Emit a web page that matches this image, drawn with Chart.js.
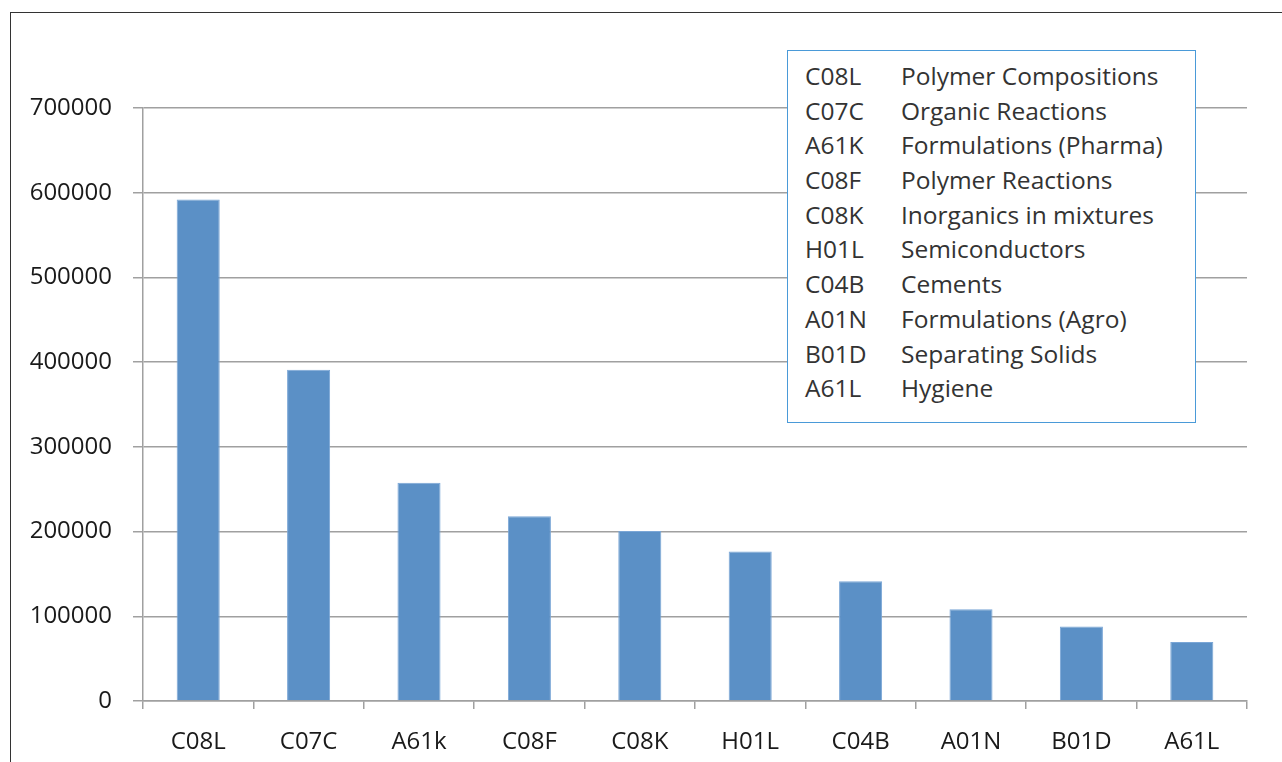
<!DOCTYPE html>
<html>
<head>
<meta charset="utf-8">
<script src="https://cdn.jsdelivr.net/npm/chart.js@4.4.1/dist/chart.umd.min.js"></script>
<style>
  html, body { margin: 0; padding: 0; background: #fff; }
  #wrap { position: relative; width: 1282px; height: 762px; overflow: hidden; }
  #frame { position: absolute; left: 10px; top: 12px; width: 1400px; height: 900px;
           border-left: 1.5px solid #333; border-top: 1.5px solid #333; }
  canvas { position: absolute; left: 0; top: 0; }
  #legend { position: absolute; left: 787px; top: 50px; width: 409px; height: 373px;
            border: 1.5px solid #4a9ad8; background: #fff; box-sizing: border-box;
            font-family: "Open Sans", sans-serif; font-size: 24.5px; color: #333; padding-top: 8px; }
  #legend .row { height: 34.7px; line-height: 34.7px; white-space: nowrap; }
  #legend .code { display: inline-block; width: 96px; padding-left: 17px; }
</style>
</head>
<body>
<div id="wrap">
  <div id="frame"></div>
  <canvas id="c" width="1282" height="762"></canvas>
  <div id="legend"></div>
</div>
<script>
const categories = ["C08L", "C07C", "A61k", "C08F", "C08K", "H01L", "C04B", "A01N", "B01D", "A61L"];
const values = [592000, 391000, 257500, 218000, 200800, 176500, 141500, 108300, 88000, 69500];
const yTicks = [0, 100000, 200000, 300000, 400000, 500000, 600000, 700000];
const legendCodes = ["C08L", "C07C", "A61K", "C08F", "C08K", "H01L", "C04B", "A01N", "B01D", "A61L"];
const legendNames = ["Polymer Compositions", "Organic Reactions", "Formulations (Pharma)", "Polymer Reactions",
  "Inorganics in mixtures", "Semiconductors", "Cements", "Formulations (Agro)", "Separating Solids", "Hygiene"];

const lg = document.getElementById('legend');
legendCodes.forEach((c, i) => {
  const r = document.createElement('div');
  r.className = 'row';
  const s = document.createElement('span'); s.className = 'code'; s.textContent = c;
  const n = document.createElement('span'); n.textContent = legendNames[i];
  r.appendChild(s); r.appendChild(n); lg.appendChild(r);
});

const font = { family: "'Open Sans', sans-serif", size: 24 };
new Chart(document.getElementById('c'), {
  type: 'bar',
  data: {
    labels: categories,
    datasets: [{ data: values, backgroundColor: '#5b90c6', borderColor: '#7aa6d6', borderWidth: 1,
                 categoryPercentage: 1.0, barPercentage: 0.39 }]
  },
  options: {
    responsive: false,
    animation: false,
    devicePixelRatio: 1,
    layout: { padding: { top: 108, right: 35, left: 0, bottom: 0 } },
    plugins: { legend: { display: false }, tooltip: { enabled: false } },
    scales: {
      x: {
        afterFit: s => { s.height = 61; },
        grid: { drawOnChartArea: false, offset: true, tickLength: 8, color: '#a0a0a0', lineWidth: 1.5 },
        border: { color: '#a0a0a0', width: 1.5 },
        ticks: { font: font, color: '#1a1a1a', padding: 19 }
      },
      y: {
        min: 0, max: 700000,
        afterFit: s => { s.width = 143; },
        afterBuildTicks: s => { s.ticks = yTicks.map(v => ({ value: v })); },
        grid: { tickLength: 10, color: '#a0a0a0', lineWidth: 1.5 },
        border: { color: '#a0a0a0', width: 1.5 },
        ticks: { font: font, color: '#1a1a1a', padding: 21, callback: v => String(v) }
      }
    }
  }
});
</script>
</body>
</html>
